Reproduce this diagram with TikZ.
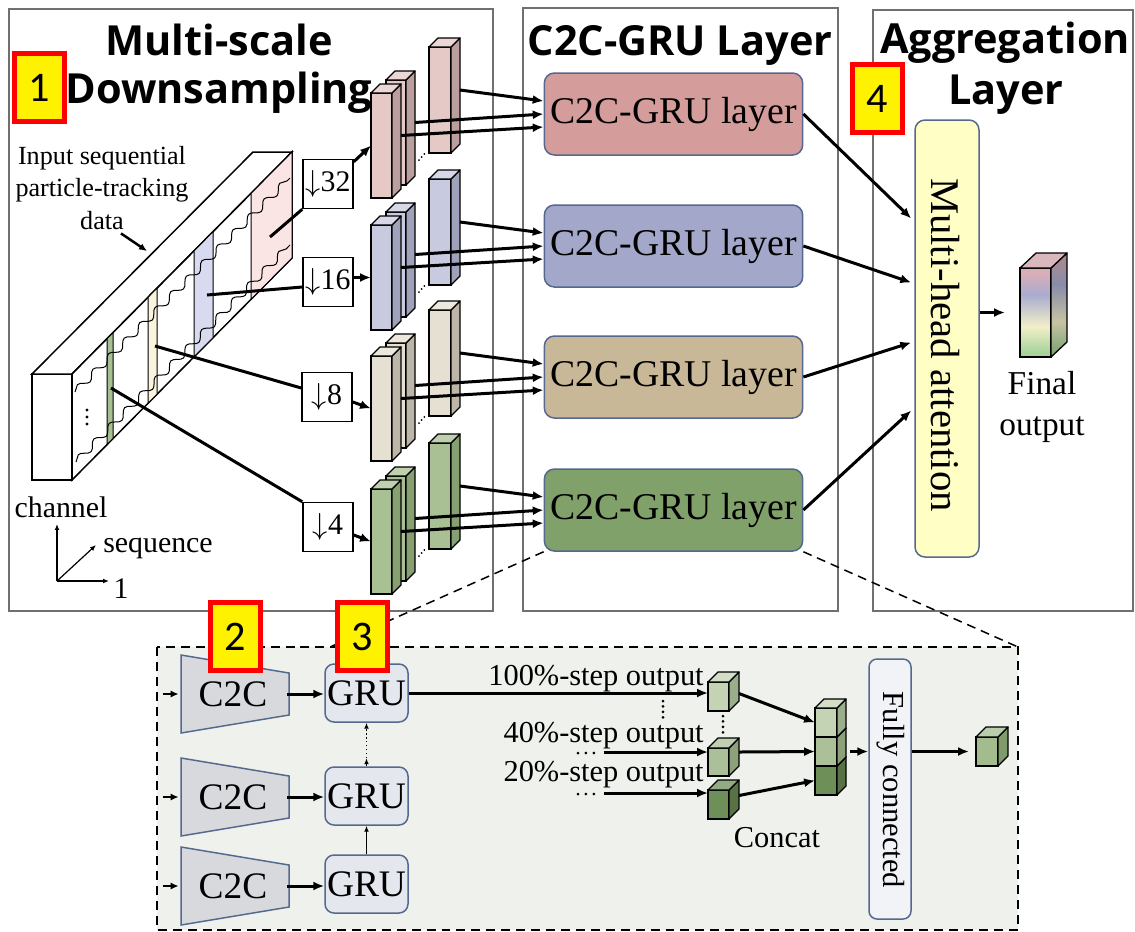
\documentclass[tikz,border=0pt]{standalone}
\usepackage{fontspec}
\setmainfont{Liberation Serif}
\newfontfamily\headfont{Open Sans}
\newfontfamily\tagfont{Carlito}
\usetikzlibrary{arrows.meta,decorations.pathmorphing}

\newlength{\du}
\setlength{\du}{0.02cm}

\definecolor{framegray}{HTML}{707070}
\definecolor{boxline}{HTML}{55688F}
\definecolor{pinkfront}{HTML}{E4C9C7}
\definecolor{pinkside}{HTML}{BA9F9E}
\definecolor{bluefront}{HTML}{C8CADF}
\definecolor{blueside}{HTML}{9FA2BA}
\definecolor{creamfront}{HTML}{E6E0D3}
\definecolor{creamside}{HTML}{BCB5A8}
\definecolor{greenfront}{HTML}{A8C093}
\definecolor{greenside}{HTML}{86A071}
\definecolor{pinkbox}{HTML}{D59C9C}
\definecolor{bluebox}{HTML}{A3A7C9}
\definecolor{tanbox}{HTML}{C9B897}
\definecolor{greenbox}{HTML}{81A16B}
\definecolor{strippink}{HTML}{FBE4E4}
\definecolor{stripblue}{HTML}{D8DAEF}
\definecolor{stripcream}{HTML}{F8F4DE}
\definecolor{stripgreen}{HTML}{A6BF93}
\definecolor{panelbg}{HTML}{EEF1EC}
\definecolor{trapfill}{HTML}{D8D9DC}
\definecolor{grufill}{HTML}{E5E7EF}
\definecolor{fcfill}{HTML}{F2F3F7}
\definecolor{mhafill}{HTML}{FFFFC5}
\definecolor{cubelight}{HTML}{C3D3B3}
\definecolor{cubelightside}{HTML}{9BAE8B}
\definecolor{cubemid}{HTML}{ABBF99}
\definecolor{cubemidside}{HTML}{8CA079}
\definecolor{cubedark}{HTML}{6E8F58}
\definecolor{cubedarkside}{HTML}{577345}
\definecolor{cubeout}{HTML}{A3BC8E}
\definecolor{cubeoutside}{HTML}{7F9A6B}
\definecolor{fpink}{HTML}{D8AEB8}
\definecolor{fblue}{HTML}{A9ACD0}
\definecolor{fcream}{HTML}{F2EFC8}
\definecolor{fgreen}{HTML}{A8D49C}
\definecolor{spink}{HTML}{A98A92}
\definecolor{sblue}{HTML}{898CA9}
\definecolor{scream}{HTML}{C6C2A2}
\definecolor{sgreen}{HTML}{84A77A}
\definecolor{ftop}{HTML}{D9B7BD}

\pgfdeclareverticalshading{outfront}{100bp}{color(0bp)=(fgreen); color(28bp)=(fgreen); color(42bp)=(fcream); color(60bp)=(fblue); color(72bp)=(fpink); color(100bp)=(fpink)}
\pgfdeclareverticalshading{outside}{100bp}{color(0bp)=(sgreen); color(28bp)=(sgreen); color(42bp)=(scream); color(60bp)=(sblue); color(72bp)=(spink); color(100bp)=(spink)}

\tikzset{
  panel/.style={draw=framegray, line width=1.2\du},
  conn/.style={line width=3\du},
  arr/.style={line width=3\du, -{Latex[length=6.2pt,width=5.1pt]}},
  smallarr/.style={line width=2.5\du, -{Latex[length=4.5pt,width=4pt]}},
  thinarr/.style={line width=1.2\du, -{Latex[length=3.4pt,width=2.8pt]}},
  dotline/.style={line width=3\du, line cap=round, dash pattern=on 0pt off 3.1pt},
  zoomline/.style={line width=1.5\du, dash pattern=on 5.1pt off 3.4pt},
  wave/.style={line width=1\du, decorate, decoration={snake, amplitude=2pt, segment length=12.5pt}},
  heading/.style={inner sep=0, font=\headfont\bfseries\fontsize{23.6}{26}\selectfont},
  badge/.style={draw=red, fill=yellow, line width=5\du, inner sep=0, minimum width=50\du, minimum height=68\du, font=\tagfont\fontsize{24}{26}\selectfont},
  txt/.style={inner sep=0, font=\fontsize{17}{20}\selectfont},
  dsbox/.style={draw, fill=white, line width=1.5\du, inner sep=0, minimum width=50\du, minimum height=49\du, font=\fontsize{17}{20}\selectfont},
  gru layer/.style={draw=boxline, line width=1.5\du, rounded corners=10\du, minimum width=257\du, minimum height=82\du, font=\fontsize{21.5}{24}\selectfont},
  trap/.style={draw=boxline, fill=trapfill, line width=1.5\du},
  c2c/.style={inner sep=0, minimum width=108\du, minimum height=40\du, font=\fontsize{21.3}{24}\selectfont},
  gru/.style={draw=boxline, fill=grufill, line width=1.5\du, rounded corners=9\du, inner sep=0, minimum width=83\du, minimum height=58\du, font=\fontsize{21.3}{24}\selectfont},
  steptxt/.style={inner sep=0, font=\fontsize{17.3}{20}\selectfont},
}

% cuboid: name, x, y (front top left), width, height, depth, front, side
\newcommand{\cuboid}[8]{%
  \node[inner sep=0, outer sep=0, minimum width=#4\du, minimum height=#5\du, anchor=north west, draw, fill=#7, line width=1.3\du] (#1) at (#2\du,#3\du) {};
  \filldraw[fill=#8, line width=1.3\du, line join=round] (#1.north east) -- ++(#6\du,-#6\du) -- ++(0,#5\du) -- ++(-#6\du,#6\du) -- cycle;
  \filldraw[fill=#7!75!white, line width=1.3\du, line join=round] (#1.north west) -- ++(#6\du,-#6\du) -- ++(#4\du,0) -- ++(-#6\du,#6\du) -- cycle;
}

\begin{document}
\begin{tikzpicture}
\pgftransformyscale{-1.000000}
\useasboundingbox (0\du,0\du) rectangle (1135\du,931\du);
\fill[white] (0\du,0\du) rectangle (1135\du,931\du);

% the three panels
\draw[panel] (9\du,9\du) rectangle (493\du,611\du);
\draw[panel] (523\du,8\du) rectangle (838\du,611\du);
\draw[panel] (873\du,10\du) rectangle (1133\du,611\du);

\node[heading] (t1a) at (219\du,40\du) {Multi-scale};
\node[heading] (t1b) at (219\du,93\du) {Downsampling};
\node[heading] (t2) at (680\du,45\du) {C2C-GRU Layer};
\node[heading] (t3a) at (1005\du,43\du) {Aggregation};
\node[heading] (t3b) at (1006\du,95\du) {Layer};
\node[badge] (n1) at (39.5\du,87.5\du) {1};
\node[badge] (n4) at (877\du,98.5\du) {4};

% input data slab
\filldraw[fill=white, line width=1.5\du] (32\du,374\du) rectangle (72\du,480\du);
\filldraw[fill=white, line width=1.5\du] (32\du,374\du) -- (253\du,152\du) -- (292\du,152\du) -- (72\du,374\du) -- cycle;
\filldraw[fill=white, line width=1.5\du] (72\du,374\du) -- (292\du,152\du) -- (292\du,258\du) -- (72\du,480\du) -- cycle;
\filldraw[fill=strippink, line width=1\du] (251\du,193.4\du) -- (292\du,152\du) -- (292\du,258\du) -- (251\du,299.4\du) -- cycle;
\filldraw[fill=stripblue, line width=1\du] (194\du,250.9\du) -- (213\du,231.7\du) -- (213\du,337.7\du) -- (194\du,356.9\du) -- cycle;
\filldraw[fill=stripcream, line width=1\du] (148\du,297.3\du) -- (157\du,288.2\du) -- (157\du,394.2\du) -- (148\du,403.3\du) -- cycle;
\filldraw[fill=stripgreen, line width=1\du] (107\du,338.7\du) -- (113\du,332.6\du) -- (113\du,438.6\du) -- (107\du,444.7\du) -- cycle;
\draw[wave] (75\du,392\du) -- (290\du,178\du);
\draw[wave] (76\du,462\du) -- (290\du,245\du);
\fill (87\du,410\du) circle (1.6\du);
\fill (87\du,417\du) circle (1.6\du);
\fill (87\du,424\du) circle (1.6\du);
\coordinate (sp) at (270\du,237\du);
\coordinate (sb) at (207\du,295\du);
\coordinate (sc) at (155\du,346\du);
\coordinate (sg) at (111\du,388\du);
\coordinate (slabhit) at (147\du,251\du);

\node[inner sep=0, align=center, font=\fontsize{14.9}{18.7}\selectfont] (intxt) at (102\du,188\du) {Input sequential\\particle-tracking\\data};
\draw[smallarr] ([shift={(19\du,3\du)}]intxt.south) -- (slabhit);

% axes
\coordinate (ax0) at (57\du,581\du);
\coordinate (axc) at (57\du,524\du);
\coordinate (axs) at (96\du,545\du);
\coordinate (ax1) at (109\du,581\du);
\draw[thinarr] (ax0) -- (axc);
\draw[thinarr] (ax0) -- (axs);
\draw[thinarr] (ax0) -- (ax1);
\node[txt] (lch) at (61\du,507\du) {channel};
\node[txt] (lsq) at (158\du,548\du) {sequence};
\node[txt] (l1) at (121\du,589\du) {1};

% downsampling
\node[dsbox] (ds32) at (328\du,184\du) {$\downarrow$32};
\node[dsbox] (ds16) at (328\du,282\du) {$\downarrow$16};
\node[dsbox] (ds8) at (327\du,397\du) {$\downarrow$8};
\node[dsbox] (ds4) at (328\du,527\du) {$\downarrow$4};
\draw[conn] (sp) -- (ds32.south west);
\draw[conn] (sb) -- ([shift={(0,5\du)}]ds16.west);
\draw[conn] (sc) -- ([shift={(0,-9\du)}]ds8.west);
\draw[conn] (sg) -- (ds4.north west);

% scale 32
\cuboid{pb}{386}{80}{20}{105}{9}{pinkfront}{pinkside}
\cuboid{pa}{371}{93}{21}{105}{9}{pinkfront}{pinkside}
\cuboid{pc}{429}{47}{22}{106}{9}{pinkfront}{pinkside}
\draw[dotline, line width=2\du, dash pattern=on 0pt off 2.3pt] (419\du,160\du) -- (427\du,151\du);
\node[gru layer, fill=pinkbox] (lyr1) at (673.5\du,114\du) {C2C-GRU layer};
\draw[arr] ([shift={(0,3\du)}]ds32.north east) -- (pa.west);
\draw[arr] ([shift={(9\du,-10\du)}]pc.east) -- ([shift={(0,-13\du)}]lyr1.west);
\draw[arr] ([shift={(9\du,-10\du)}]pb.east) -- (lyr1.west);
\draw[arr] ([shift={(9\du,-10\du)}]pa.east) -- ([shift={(0,13\du)}]lyr1.west);

% scale 16
\cuboid{bb}{386}{212}{20}{105}{9}{bluefront}{blueside}
\cuboid{ba}{371}{225}{21}{105}{9}{bluefront}{blueside}
\cuboid{bc}{429}{179}{22}{106}{9}{bluefront}{blueside}
\draw[dotline, line width=2\du, dash pattern=on 0pt off 2.3pt] (419\du,292\du) -- (427\du,283\du);
\node[gru layer, fill=bluebox] (lyr2) at (673.5\du,246\du) {C2C-GRU layer};
\draw[arr] (ds16.east |- ba.west) -- (ba.west);
\draw[arr] ([shift={(9\du,-10\du)}]bc.east) -- ([shift={(0,-13\du)}]lyr2.west);
\draw[arr] ([shift={(9\du,-10\du)}]bb.east) -- (lyr2.west);
\draw[arr] ([shift={(9\du,-10\du)}]ba.east) -- ([shift={(0,13\du)}]lyr2.west);

% scale 8
\cuboid{cb}{386}{343}{20}{105}{9}{creamfront}{creamside}
\cuboid{ca}{371}{356}{21}{105}{9}{creamfront}{creamside}
\cuboid{cc}{429}{310}{22}{106}{9}{creamfront}{creamside}
\draw[dotline, line width=2\du, dash pattern=on 0pt off 2.3pt] (419\du,423\du) -- (427\du,414\du);
\node[gru layer, fill=tanbox] (lyr3) at (673.5\du,377\du) {C2C-GRU layer};
\draw[arr] ([shift={(0,5\du)}]ds8.east) -- (ca.west);
\draw[arr] ([shift={(9\du,-10\du)}]cc.east) -- ([shift={(0,-13\du)}]lyr3.west);
\draw[arr] ([shift={(9\du,-10\du)}]cb.east) -- (lyr3.west);
\draw[arr] ([shift={(9\du,-10\du)}]ca.east) -- ([shift={(0,13\du)}]lyr3.west);

% scale 4
\cuboid{gb}{386}{476}{20}{105}{9}{greenfront}{greenside}
\cuboid{ga}{371}{489}{21}{105}{9}{greenfront}{greenside}
\cuboid{gc}{429}{443}{22}{106}{9}{greenfront}{greenside}
\draw[dotline, line width=2\du, dash pattern=on 0pt off 2.3pt] (419\du,556\du) -- (427\du,547\du);
\node[gru layer, fill=greenbox] (lyr4) at (673.5\du,510\du) {C2C-GRU layer};
\draw[arr] ([shift={(0,8\du)}]ds4.east) -- (ga.west);
\draw[arr] ([shift={(9\du,-10\du)}]gc.east) -- ([shift={(0,-13\du)}]lyr4.west);
\draw[arr] ([shift={(9\du,-10\du)}]gb.east) -- (lyr4.west);
\draw[arr] ([shift={(9\du,-10\du)}]ga.east) -- ([shift={(0,13\du)}]lyr4.west);

% aggregation
\node[draw=boxline, fill=mhafill, line width=1.5\du, rounded corners=10\du, minimum width=64\du, minimum height=437\du] (mha) at (947\du,338.5\du) {};
\node[inner sep=0, rotate=-90, font=\fontsize{23.2}{26}\selectfont] (mhatxt) at (945\du,345\du) {Multi-head attention};
\draw[arr] (lyr1.east) -- ([shift={(-3\du,-120\du)}]mha.west);
\draw[arr] (lyr2.east) -- ([shift={(-3\du,-56\du)}]mha.west);
\draw[arr] (lyr3.east) -- ([shift={(-3\du,4\du)}]mha.west);
\draw[arr] (lyr4.east) -- ([shift={(-3\du,72\du)}]mha.west);

\node[inner sep=0, outer sep=0, minimum width=31\du, minimum height=89\du, anchor=north west, draw, line width=1.3\du, shade, shading=outfront] (fo) at (1020\du,268\du) {};
\shade[shading=outside, draw, line width=1.3\du, line join=round] (fo.north east) -- ++(16\du,-15\du) -- ++(0,89\du) -- ++(-16\du,15\du) -- cycle;
\filldraw[fill=ftop, line width=1.3\du, line join=round] (fo.north west) -- ++(16\du,-15\du) -- ++(31\du,0) -- ++(-16\du,15\du) -- cycle;
\draw[arr, shorten >=15\du] (fo.west -| mha.east) -- (fo.west);
\node[inner sep=0, align=center, font=\fontsize{19}{23.2}\selectfont] (fotxt) at (1042\du,407\du) {Final\\output};

% detail of one C2C-GRU layer
\coordinate (zl) at (330\du,647\du);
\coordinate (zr) at (1018\du,647\du);
\filldraw[fill=panelbg, zoomline] (157\du,647\du) rectangle (1018\du,930\du);
\draw[zoomline] (lyr4.south west) -- (zl);
\draw[zoomline] (lyr4.south east) -- (zr);

\filldraw[trap] (181\du,655\du) -- (289\du,673\du) -- (289\du,715\du) -- (181\du,733\du) -- cycle;
\filldraw[trap] (181\du,758\du) -- (289\du,776\du) -- (289\du,818\du) -- (181\du,836\du) -- cycle;
\filldraw[trap] (181\du,847\du) -- (289\du,865\du) -- (289\du,907\du) -- (181\du,925\du) -- cycle;
\node[c2c] (cv1) at (233\du,694\du) {C2C};
\node[c2c] (cv2) at (233\du,797\du) {C2C};
\node[c2c] (cv3) at (233\du,886\du) {C2C};
\coordinate (in1) at (163\du,694\du);
\coordinate (in2) at (163\du,797\du);
\coordinate (in3) at (163\du,886\du);
\draw[smallarr] (in1) -- (cv1.west);
\draw[smallarr] (in2) -- (cv2.west);
\draw[smallarr] (in3) -- (cv3.west);

\node[gru] (gr1) at (366.5\du,693\du) {GRU};
\node[gru] (gr2) at (366.5\du,796\du) {GRU};
\node[gru] (gr3) at (366.5\du,884\du) {GRU};
\draw[arr] (cv1.east) -- (cv1.east -| gr1.west);
\draw[arr] (cv2.east) -- (cv2.east -| gr2.west);
\draw[arr] (cv3.east) -- (cv3.east -| gr3.west);
\draw[thinarr] (gr3.north) -- (gr2.south);
\draw[thinarr] (gr2.north) -- ++(0,-8\du);
\draw[thinarr, dash pattern=on 0.85pt off 1.4pt] ([shift={(0,-8\du)}]gr2.north) -- (gr1.south);

\cuboid{q1}{708}{682}{21}{29}{10}{cubelight}{cubelightside}
\cuboid{q2}{708}{748}{21}{28}{10}{cubemid}{cubemidside}
\cuboid{q3}{708}{790}{21}{29}{10}{cubedark}{cubedarkside}
\node[steptxt, anchor=base east] (l100) at (704\du,685\du) {100\%-step output};
\node[steptxt, anchor=base east] (l40) at (704\du,742\du) {40\%-step output};
\node[steptxt, anchor=base east] (l20) at (704\du,781\du) {20\%-step output};
% earlier steps feed in from the left
\draw[dotline, dash pattern=on 0pt off 4.5pt] (578\du,753\du) -- (597\du,753\du);
\draw[dotline, dash pattern=on 0pt off 4.5pt] (578\du,794\du) -- (597\du,794\du);
\coordinate (st40) at (604\du,752\du);
\coordinate (st20) at (604\du,793\du);
\draw[arr] (gr1.east) -- (gr1.east -| q1.west);
\draw[arr] (st40) -- (st40 -| q2.west);
\draw[arr] (st20) -- (st20 -| q3.west);
\draw[dotline] (663\du,701\du) -- (663\du,720\du);
\draw[dotline] (723\du,716\du) -- (723\du,733\du);

\cuboid{s3}{815}{766}{22}{29}{9}{cubedark}{cubedarkside}
\cuboid{s2}{815}{737}{22}{29}{9}{cubemid}{cubemidside}
\cuboid{s1}{815}{708}{22}{29}{9}{cubelight}{cubelightside}
\draw[arr] ([shift={(10\du,-3\du)}]q1.east) -- (s1.west);
\draw[arr] ([shift={(10\du,-10\du)}]q2.east) -- (s2.west);
\draw[arr] ([shift={(10\du,-9\du)}]q3.east) -- (s3.west);
\node[steptxt] (cct) at (777\du,838\du) {Concat};

\node[draw=boxline, fill=fcfill, line width=1.5\du, rounded corners=8\du, minimum width=42\du, minimum height=260\du] (fc) at (890\du,789\du) {};
\node[inner sep=0, rotate=-90, font=\fontsize{17.4}{20}\selectfont] (fctxt) at (891\du,790\du) {Fully connected};
\draw[arr] ([shift={(13\du,0)}]s2.east) -- (s2.east -| fc.west);
\cuboid{qo}{976}{737}{22}{29}{10}{cubeout}{cubeoutside}
\draw[arr, shorten >=7\du] (fc.east |- qo.west) -- (qo.west);

\node[badge] (n2) at (235\du,636.5\du) {2};
\node[badge] (n3) at (362.5\du,636.5\du) {3};
\end{tikzpicture}
\end{document}
